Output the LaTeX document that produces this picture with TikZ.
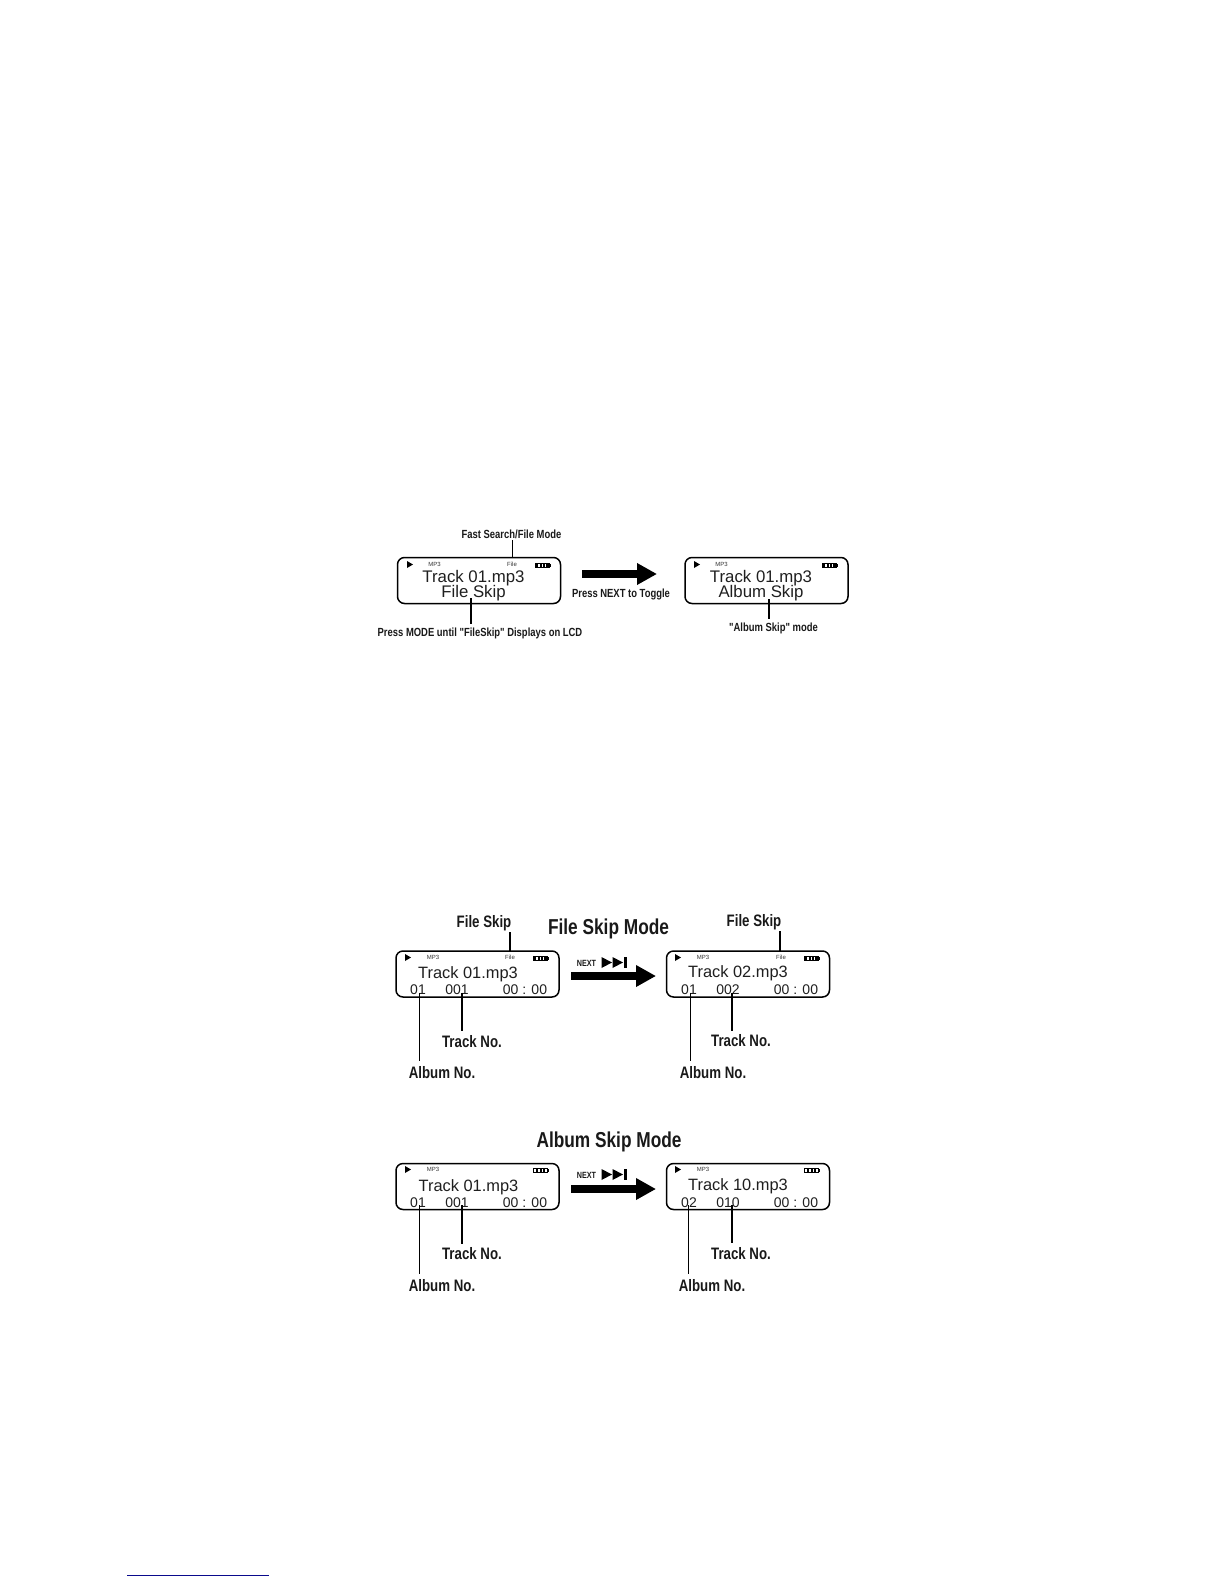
\documentclass[tikz,border=0pt]{standalone}
\usepackage{fontspec}
\setmainfont{Liberation Sans}
\newfontfamily\condfont[FakeStretch=0.80]{Liberation Sans}
\usetikzlibrary{arrows.meta}
\tikzset{
  lcdbox/.style={draw=black,line width=1.5pt,rounded corners=7pt,minimum width=163pt,minimum height=46pt,inner sep=0pt},
  lcdtext/.style={inner sep=0pt,font=\fontsize{16.8}{16.8}\selectfont,text height=11.5pt,text depth=0pt,text=black!88},
  lcdtextb/.style={lcdtext,font=\fontsize{16.4}{16.4}\selectfont},
  lcdrow/.style={inner sep=0pt,font=\fontsize{14}{14}\selectfont,text height=10pt,text depth=0pt,text=black!88},
  tiny/.style={inner sep=0pt,font=\fontsize{6}{6}\selectfont,text height=4.5pt,text depth=0pt,text=black!80},
  callout/.style={inner sep=0pt,font=\condfont\bfseries\fontsize{11.8}{11.8}\selectfont,text height=8.4pt,text depth=0pt,text=black!90},
  bigcallout/.style={inner sep=0pt,yshift=.7pt,font=\condfont\bfseries\fontsize{16.6}{16.6}\selectfont,text height=12pt,text depth=0pt,text=black!90},
  headline/.style={inner sep=0pt,font=\condfont\bfseries\fontsize{21.6}{21.6}\selectfont,text height=15.4pt,text depth=0pt,text=black!90},
  nextlabel/.style={inner sep=0pt,font=\condfont\bfseries\fontsize{9}{9}\selectfont,text height=6.6pt,text depth=0pt,text=black!90},
  thickline/.style={draw=black,line width=2pt},
  thinline/.style={draw=black,line width=1pt},
  solidshape/.style={fill=black,draw=none},
  bigarrow/.style={-{Triangle[length=20pt,width=20.5pt]},line width=8.5pt,draw=black},
}
% play triangle at left x, top y
\newcommand{\playmark}[2]{\fill[solidshape] (#1,#2) -- (#1+6,#2+3.5) -- (#1,#2+7) -- cycle;}
% full battery
\newcommand{\batfull}[2]{%
  \draw[black,line width=1pt] (#1,#2) rectangle (#1+14,#2+4.5);
  \fill[black] (#1+14,#2+1) rectangle (#1+15.5,#2+3.5);
  \foreach \b in {1.2,4.6,8,11.4}{\fill[black] (#1+\b,#2) rectangle (#1+\b+2.1,#2+4.5);}}
% three bar battery
\newcommand{\batthree}[2]{%
  \draw[black,line width=1pt] (#1,#2) rectangle (#1+14,#2+4.5);
  \fill[black] (#1+14,#2+1) rectangle (#1+15.5,#2+3.5);
  \foreach \b in {3,6.5,10}{\fill[black] (#1+\b,#2+.8) rectangle (#1+\b+2,#2+3.7);}}
% skip icon at left x, top y
\newcommand{\skipmark}[2]{%
  \fill[solidshape] (#1,#2) -- (#1+10.5,#2+5.5) -- (#1,#2+11) -- cycle;
  \fill[solidshape] (#1+11,#2) -- (#1+21.5,#2+5.5) -- (#1+11,#2+11) -- cycle;
  \fill[solidshape] (#1+22,#2) rectangle (#1+25.5,#2+11);}
\begin{document}
\begin{tikzpicture}[x=1pt,y=-1pt]
\useasboundingbox (0,0) rectangle (1224,1584);

%%% Top pair
\node[lcdbox] (topA) at (479,580.5) {};
\node[lcdbox] (topB) at (766.5,580.5) {};
\playmark{407}{561}
\playmark{694}{561}
\node[tiny] (topAmp) at (434.5,564) {MP3};
\node[tiny] (topAfile) at (512,564) {File};
\node[tiny] (topBmp) at (721.5,564) {MP3};
\batfull{535}{563}
\batfull{822}{563}
\node[lcdtext] (topAt) at (473.5,576.5) {Track 01.mp3};
\node[lcdtext] (topAs) at (473.5,592) {File Skip};
\node[lcdtext] (topBt) at (761,576.5) {Track 01.mp3};
\node[lcdtext] (topBs) at (761,592) {Album Skip};
\node[callout] (fastlab) at (511.5,534) {Fast Search/File Mode};
\node[callout] (modelab) at (480,632) {Press MODE until "FileSkip" Displays on LCD};
\node[callout] (nextlab) at (621,593) {Press NEXT to Toggle};
\node[callout] (albumlab) at (773.5,627) {"Album Skip" mode};
\coordinate (fastend) at (512,540);
\coordinate (fastbox) at (512,558);
\coordinate (modetop) at (471,598);
\coordinate (modeend) at (471,624);
\coordinate (albumtop) at (769,599);
\coordinate (albumend) at (769,619);
\draw[thinline] (fastend) -- (fastbox);
\draw[thickline] (modetop) -- (modeend);
\draw[thickline] (albumtop) -- (albumend);
\coordinate (arrA) at (582,574);
\coordinate (arrB) at (657,574);
\draw[bigarrow] (arrA) -- (arrB);

%%% File Skip Mode
\node[headline] (filehead) at (608.5,927) {File Skip Mode};
\node[lcdbox] (midA) at (477.5,974) {};
\node[lcdbox] (midB) at (748,974) {};
\playmark{405}{954}
\playmark{675}{954}
\node[tiny] (midAmp) at (433,957) {MP3};
\node[tiny] (midAfile) at (510,957) {File};
\node[tiny] (midBmp) at (703,957) {MP3};
\node[tiny] (midBfile) at (781,957) {File};
\batfull{533}{956}
\batfull{804}{956}
\node[lcdtextb] (midAt) at (468,973) {Track 01.mp3};
\node[lcdtextb] (midBt) at (738,972) {Track 02.mp3};
\node[lcdrow] (midAa) at (418,989) {01};
\node[lcdrow] (midAb) at (457,989) {001};
\node[lcdrow] (midAc) at (525,989) {00 : 00};
\node[lcdrow] (midBa) at (689,989) {01};
\node[lcdrow] (midBb) at (728,989) {002};
\node[lcdrow] (midBc) at (796,989) {00 : 00};
\node[bigcallout] (midAf) at (484,922) {File Skip};
\node[bigcallout] (midBf) at (754,921) {File Skip};
\node[bigcallout] (midAtr) at (472,1042) {Track No.};
\node[bigcallout] (midBtr) at (741,1041) {Track No.};
\node[bigcallout] (midAal) at (442,1073) {Album No.};
\node[bigcallout] (midBal) at (713,1073) {Album No.};
\coordinate (m1a) at (510,932); \coordinate (m1b) at (510,952);
\coordinate (m2a) at (780,931); \coordinate (m2b) at (780,952);
\coordinate (m3a) at (462,993); \coordinate (m3b) at (462,1031);
\coordinate (m4a) at (732,993); \coordinate (m4b) at (732,1031);
\coordinate (m5a) at (419.5,993); \coordinate (m5b) at (419.5,1061);
\coordinate (m6a) at (690,993); \coordinate (m6b) at (690,1061);
\draw[thickline] (m1a) -- (m1b);
\draw[thickline] (m2a) -- (m2b);
\draw[thickline] (m3a) -- (m3b);
\draw[thickline] (m4a) -- (m4b);
\draw[thinline] (m5a) -- (m5b);
\draw[thinline] (m6a) -- (m6b);
\node[nextlabel] (midnext) at (586.5,963) {NEXT};
\skipmark{601.5}{957}
\coordinate (arrC) at (571,976);
\coordinate (arrD) at (656,976);
\draw[bigarrow] (arrC) -- (arrD);

%%% Album Skip Mode
\node[headline] (albumhead) at (609,1140) {Album Skip Mode};
\node[lcdbox] (lowA) at (477.5,1186.5) {};
\node[lcdbox] (lowB) at (748,1186.5) {};
\playmark{405}{1166}
\playmark{675}{1166}
\node[tiny] (lowAmp) at (433,1169) {MP3};
\node[tiny] (lowBmp) at (703,1169) {MP3};
\batthree{533}{1168}
\batthree{804}{1168}
\node[lcdtextb] (lowAt) at (468.5,1186) {Track 01.mp3};
\node[lcdtextb] (lowBt) at (738,1185) {Track 10.mp3};
\node[lcdrow] (lowAa) at (418,1202) {01};
\node[lcdrow] (lowAb) at (457,1202) {001};
\node[lcdrow] (lowAc) at (525,1202) {00 : 00};
\node[lcdrow] (lowBa) at (689,1202) {02};
\node[lcdrow] (lowBb) at (728,1202) {010};
\node[lcdrow] (lowBc) at (796,1202) {00 : 00};
\node[bigcallout] (lowAtr) at (472,1254) {Track No.};
\node[bigcallout] (lowBtr) at (741,1254) {Track No.};
\node[bigcallout] (lowAal) at (442,1286) {Album No.};
\node[bigcallout] (lowBal) at (712,1286) {Album No.};
\coordinate (l3a) at (462,1205); \coordinate (l3b) at (462,1244);
\coordinate (l4a) at (732,1205); \coordinate (l4b) at (732,1243);
\coordinate (l5a) at (419.5,1205); \coordinate (l5b) at (419.5,1274);
\coordinate (l6a) at (688,1205); \coordinate (l6b) at (688,1274);
\draw[thickline] (l3a) -- (l3b);
\draw[thickline] (l4a) -- (l4b);
\draw[thinline] (l5a) -- (l5b);
\draw[thinline] (l6a) -- (l6b);
\node[nextlabel] (lownext) at (586.5,1175) {NEXT};
\skipmark{601.5}{1169}
\coordinate (arrE) at (571,1189);
\coordinate (arrF) at (656,1189);
\draw[bigarrow] (arrE) -- (arrF);

%%% Footnote rule
\coordinate (ruleA) at (127,1575);
\coordinate (ruleB) at (269,1575);
\draw[draw={rgb,255:red,10;green,10;blue,140},line width=1pt] (ruleA) -- (ruleB);
\end{tikzpicture}
\end{document}
